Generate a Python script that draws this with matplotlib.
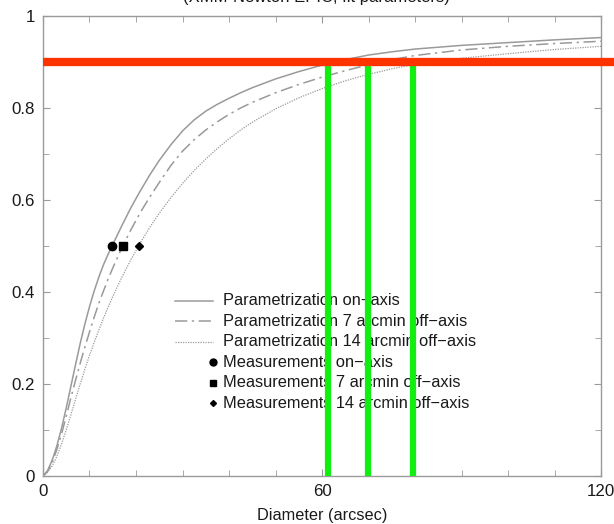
import numpy as np
import matplotlib
matplotlib.use("Agg")
import matplotlib.pyplot as plt

plt.rcParams['font.family'] = ['Liberation Sans', 'DejaVu Sans']

# encircled energy curves
x_on = [0, 1, 2, 3, 4, 5, 6, 7, 8, 9, 10, 11, 12, 13, 14, 15, 17, 19, 21, 23, 25, 27.5, 30,
        32.5, 35, 37.5, 40, 42.5, 45, 50, 55, 60, 65, 70, 75, 80, 90, 100, 110, 120]
y_on = [0, 0.012, 0.035, 0.066, 0.104, 0.148, 0.195, 0.242, 0.288, 0.33, 0.368, 0.402, 0.432,
        0.459, 0.482, 0.503, 0.545, 0.585, 0.621, 0.655, 0.686, 0.72, 0.75, 0.774, 0.793,
        0.808, 0.821, 0.833, 0.844, 0.863, 0.879, 0.893, 0.905, 0.915, 0.922, 0.928, 0.936,
        0.942, 0.948, 0.953]

x_7 = [0, 1, 2, 3, 4, 5, 6, 7, 8, 9, 10, 11, 12, 13, 14, 15, 17, 19, 21, 23, 25, 27.5, 30,
       32.5, 35, 37.5, 40, 42.5, 45, 50, 55, 60, 65, 70, 75, 80, 90, 100, 110, 120]
y_7 = [0, 0.01, 0.03, 0.058, 0.092, 0.13, 0.17, 0.208, 0.245, 0.28, 0.313, 0.345, 0.375,
       0.402, 0.428, 0.452, 0.497, 0.537, 0.574, 0.607, 0.638, 0.675, 0.706, 0.731, 0.752,
       0.77, 0.786, 0.8, 0.812, 0.833, 0.851, 0.867, 0.881, 0.894, 0.905, 0.914, 0.926,
       0.934, 0.94, 0.945]

x_14 = [0, 1, 2, 3, 4, 5, 6, 7, 8, 9, 10, 11, 12, 13, 14, 15, 17, 19, 21, 23, 25, 27.5, 30,
        32.5, 35, 37.5, 40, 42.5, 45, 50, 55, 60, 65, 70, 75, 80, 90, 100, 110, 120]
y_14 = [0, 0.008, 0.022, 0.043, 0.07, 0.1, 0.133, 0.167, 0.2, 0.232, 0.262, 0.29, 0.317,
        0.343, 0.367, 0.39, 0.433, 0.472, 0.508, 0.541, 0.571, 0.605, 0.636, 0.664, 0.689,
        0.712, 0.733, 0.752, 0.769, 0.798, 0.822, 0.842, 0.859, 0.873, 0.885, 0.895, 0.908,
        0.918, 0.927, 0.934]

# measurements at 50% encircled energy
meas_x = [14.9, 17.3, 20.6]
meas_y = [0.5, 0.5, 0.5]
meas_markers = ['o', 's', 'D']

# 90% level and where each curve reaches it
level = 0.9
cross_x = [61.3, 69.9, 79.6]

labels = ['Parametrization on\u2212axis', 'Parametrization 7 arcmin off\u2212axis',
          'Parametrization 14 arcmin off\u2212axis', 'Measurements on\u2212axis',
          'Measurements 7 arcmin off\u2212axis', 'Measurements 14 arcmin off\u2212axis']

fig = plt.figure(figsize=(6.14, 5.24), dpi=100)
ax = fig.add_axes([0.070, 0.0916, 0.909, 0.878])

gray = '#9a9a9a'
styles = ['-', (0, (8, 3, 1.5, 3)), (0, (1, 1))]
widths = [1.1, 1.1, 0.9]
for (xs, ys), ls, lw in zip([(x_on, y_on), (x_7, y_7), (x_14, y_14)], styles, widths):
    ax.plot(xs, ys, color=gray, ls=ls, lw=lw, zorder=2)

msizes = [6, 5.5, 4]
for mx, my, m, ms in zip(meas_x, meas_y, meas_markers, msizes):
    ax.plot(mx, my, marker=m, color='black', ms=ms, ls='none', zorder=3)

# hand-drawn style legend
lx0, lx1, tx = 0.2366, 0.3047, 0.3226
ly0, dy = 0.381, 0.0446
for i, lab in enumerate(labels):
    yy = ly0 - i * dy
    if i < 3:
        ax.plot([lx0, lx1], [yy, yy], transform=ax.transAxes, color=gray,
                ls=styles[i], lw=widths[i], zorder=3)
    else:
        ax.plot(lx1, yy, transform=ax.transAxes, marker=meas_markers[i - 3],
                color='black', ms=msizes[i - 3] - 1, ls='none', zorder=3)
    ax.text(tx, yy, lab, transform=ax.transAxes, fontsize=11.8, va='center',
            ha='left', color='#1a1a1a', zorder=3)

# highlight lines
for cx in cross_x:
    ax.plot([cx, cx], [0, level], color='#11ee11', lw=4.5, solid_capstyle='butt', zorder=4)
ax.plot([0, 126], [level, level], color='#ff3300', lw=6, solid_capstyle='butt',
        clip_on=False, zorder=5)

ax.set_xlim(0, 120)
ax.set_ylim(0, 1)
ax.set_xticks([0, 60, 120])
ax.set_xticks(np.arange(0, 121, 10), minor=True)
ax.set_yticks([0, 0.2, 0.4, 0.6, 0.8, 1])
ax.set_yticklabels(['0', '0.2', '0.4', '0.6', '0.8', '1'])
ax.set_yticks(np.arange(0, 1.01, 0.1), minor=True)
ax.tick_params(which='both', direction='in', top=True, right=True, color=gray,
               labelsize=12.2, labelcolor='#1a1a1a')
ax.tick_params(which='major', length=5, pad=6)
ax.tick_params(which='minor', length=4)
for s in ax.spines.values():
    s.set_color(gray)
    s.set_linewidth(1.0)

ax.set_xlabel('Diameter (arcsec)', fontsize=11.7, color='#1a1a1a', labelpad=6)

# title sits mostly above the visible area
fig.text(0.515, 0.997, '(XMM-Newton EPIC, fit parameters)', ha='center', va='baseline',
         fontsize=12, color='#1a1a1a')

fig.savefig('out.png', dpi=100)
